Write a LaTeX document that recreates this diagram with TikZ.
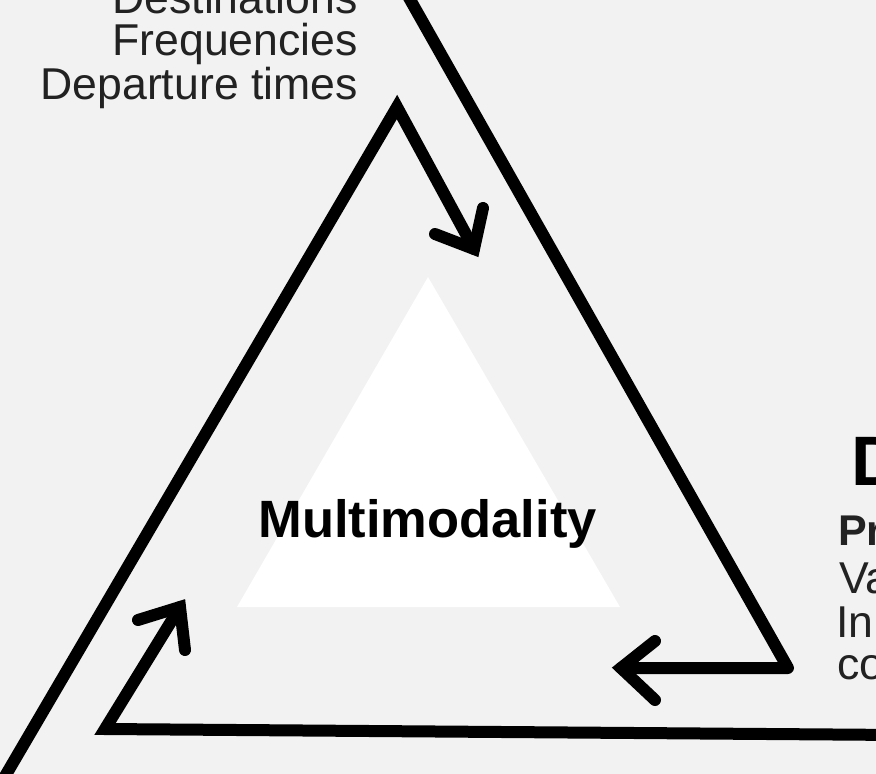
\documentclass[tikz,border=0pt]{standalone}
\usepackage{fontspec}
\setmainfont{Liberation Sans}
\definecolor{bgc}{HTML}{F2F2F2}
\definecolor{txt}{HTML}{222222}
\tikzset{
  x=1pt,y=-1pt,
  thickline/.style={line width=12pt,line cap=round},
  headline/.style={line width=12pt,line cap=round,line join=miter},
  lbl/.style={inner sep=0pt,text=txt,font=\fontsize{44.6}{44.6}\selectfont},
}
\begin{document}
\begin{tikzpicture}
\useasboundingbox (0,0) rectangle (876,774);
\clip (0,0) rectangle (876,774);
\fill[bgc] (0,0) rectangle (876,774);
% inner white triangle
\fill[white] (428,277) -- (237,607) -- (620,607) -- cycle;
\node[inner sep=0pt,anchor=base,font=\fontsize{52.5}{52.5}\selectfont\bfseries] (multi) at (427.5,537) {Multimodality};
% top-left labels
\node[lbl,anchor=base east] (dest) at (358,13) {Destinations};
\node[lbl,anchor=base east] (freq) at (358,55) {Frequencies};
\node[lbl,anchor=base east] (dep) at (358,99) {Departure times};
% right labels
\node[inner sep=0pt,anchor=base west,font=\fontsize{70}{70}\selectfont\bfseries] (dh) at (851,485) {D};
\node[inner sep=0pt,anchor=base west,text=txt,font=\fontsize{43}{43}\selectfont\bfseries] (pr) at (838,545) {Pr};
\node[lbl,anchor=base west] (va) at (839,593) {Va};
\node[lbl,anchor=base west] (in) at (836,637) {In};
\node[lbl,anchor=base west] (co) at (837,679) {co};
% right arrow
\coordinate (r0) at (399,-20);
\coordinate (rc) at (788,668);
\coordinate (rt) at (621,668);
\coordinate (rb1) at (655,641);
\coordinate (rb2) at (655,700);
\draw[thickline,line join=round] (r0) -- (rc) -- (rt);
\draw[headline] (rb1) -- (rt) -- (rb2);
% left/apex arrow
\coordinate (l0) at (-3,790);
\coordinate (la) at (397,107);
\coordinate (lt) at (474,249);
\coordinate (lb1) at (435,234);
\coordinate (lb2) at (483,208);
\draw[thickline,line join=miter] (l0) -- (la) -- (lt);
\draw[headline] (lb1) -- (lt) -- (lb2);
% bottom arrow
\coordinate (b0) at (900,735);
\coordinate (bc) at (105,729);
\coordinate (bt) at (180,607);
\coordinate (bb1) at (138,620);
\coordinate (bb2) at (185,650);
\draw[thickline,line join=miter] (b0) -- (bc) -- (bt);
\draw[headline] (bb1) -- (bt) -- (bb2);
\end{tikzpicture}
\end{document}
